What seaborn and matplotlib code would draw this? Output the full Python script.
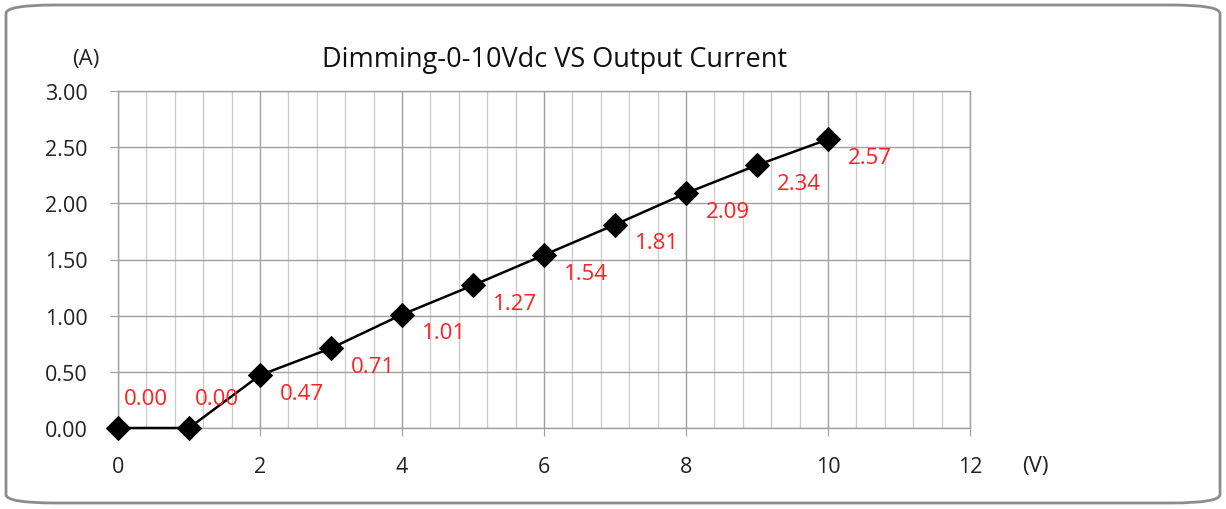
import numpy as np
import pandas as pd
import matplotlib.pyplot as plt
import seaborn as sns
from matplotlib.patches import FancyBboxPatch
from matplotlib.ticker import MultipleLocator

# 数据
volts = [0, 1, 2, 3, 4, 5, 6, 7, 8, 9, 10]
current = [0.00, 0.00, 0.47, 0.71, 1.01, 1.27, 1.54, 1.81, 2.09, 2.34, 2.57]
x_ticks = [0, 2, 4, 6, 8, 10, 12]
y_ticks = [0.0, 0.5, 1.0, 1.5, 2.0, 2.5, 3.0]

df = pd.DataFrame({'V': volts, 'A': current})

sns.set_style('white')
plt.rcParams['font.family'] = ['Open Sans', 'DejaVu Sans']

fig = plt.figure(figsize=(12.26, 5.10), dpi=100)
ax = fig.add_axes([118/1226, 1-429/510, (970-118)/1226, (429-92)/510])

# 圆角外框
frame = FancyBboxPatch((6/1226, 6/510), 1214/1226, 498/510,
                       boxstyle='round,pad=0,rounding_size=0.04',
                       transform=fig.transFigure, facecolor='none',
                       edgecolor='#8c8c8c', linewidth=2, mutation_aspect=510/1226)
fig.patches.append(frame)

sns.lineplot(data=df, x='V', y='A', ax=ax, color='black', linewidth=1.8,
             marker='D', markersize=12.5, markeredgecolor='black', zorder=3, clip_on=False)

ax.set_xlim(0, 12)
ax.set_ylim(0, 3)
ax.set_xticks(x_ticks)
ax.set_yticks(y_ticks)
ax.set_yticklabels([f'{v:.2f}' for v in y_ticks])
ax.xaxis.set_minor_locator(MultipleLocator(0.4))
ax.grid(which='minor', axis='x', color='#cccccc', linewidth=1)
ax.grid(which='major', axis='x', color='#a0a0a0', linewidth=1)
ax.grid(which='major', axis='y', color='#a0a0a0', linewidth=1)
ax.set_axisbelow(True)
for s in ax.spines.values():
    s.set_color('#a0a0a0')
    s.set_linewidth(1)
ax.tick_params(axis='both', which='major', labelsize=15.5, length=6, color='#a0a0a0',
               direction='out', labelcolor='#222222')
ax.tick_params(axis='y', pad=16)
ax.tick_params(axis='x', pad=14)
ax.tick_params(axis='x', which='minor', length=0)
ax.tick_params(left=True, bottom=True)
ax.set_xlabel(None)
ax.set_ylabel(None)

# 数据标签
for xv, yv in zip(volts, current):
    if yv == 0:
        ax.annotate(f'{yv:.2f}', (xv, yv), xytext=(20, 21), textcoords='offset points',
                    ha='center', va='center', color='#ff2020', fontsize=16)
    else:
        ax.annotate(f'{yv:.2f}', (xv, yv), xytext=(14, -13), textcoords='offset points',
                    ha='left', va='center', color='#ff2020', fontsize=16)

fig.text(555/1226, 1-60/510, 'Dimming-0-10Vdc VS Output Current', ha='center', va='center',
         fontsize=19.5, color='#111111')
fig.text(86/1226, 1-60/510, '(A)', ha='center', va='center', fontsize=16, color='#222222')
fig.text(1035/1226, 1-467/510, '(V)', ha='center', va='center', fontsize=16, color='#222222')

fig.savefig('out.png', dpi=100)
